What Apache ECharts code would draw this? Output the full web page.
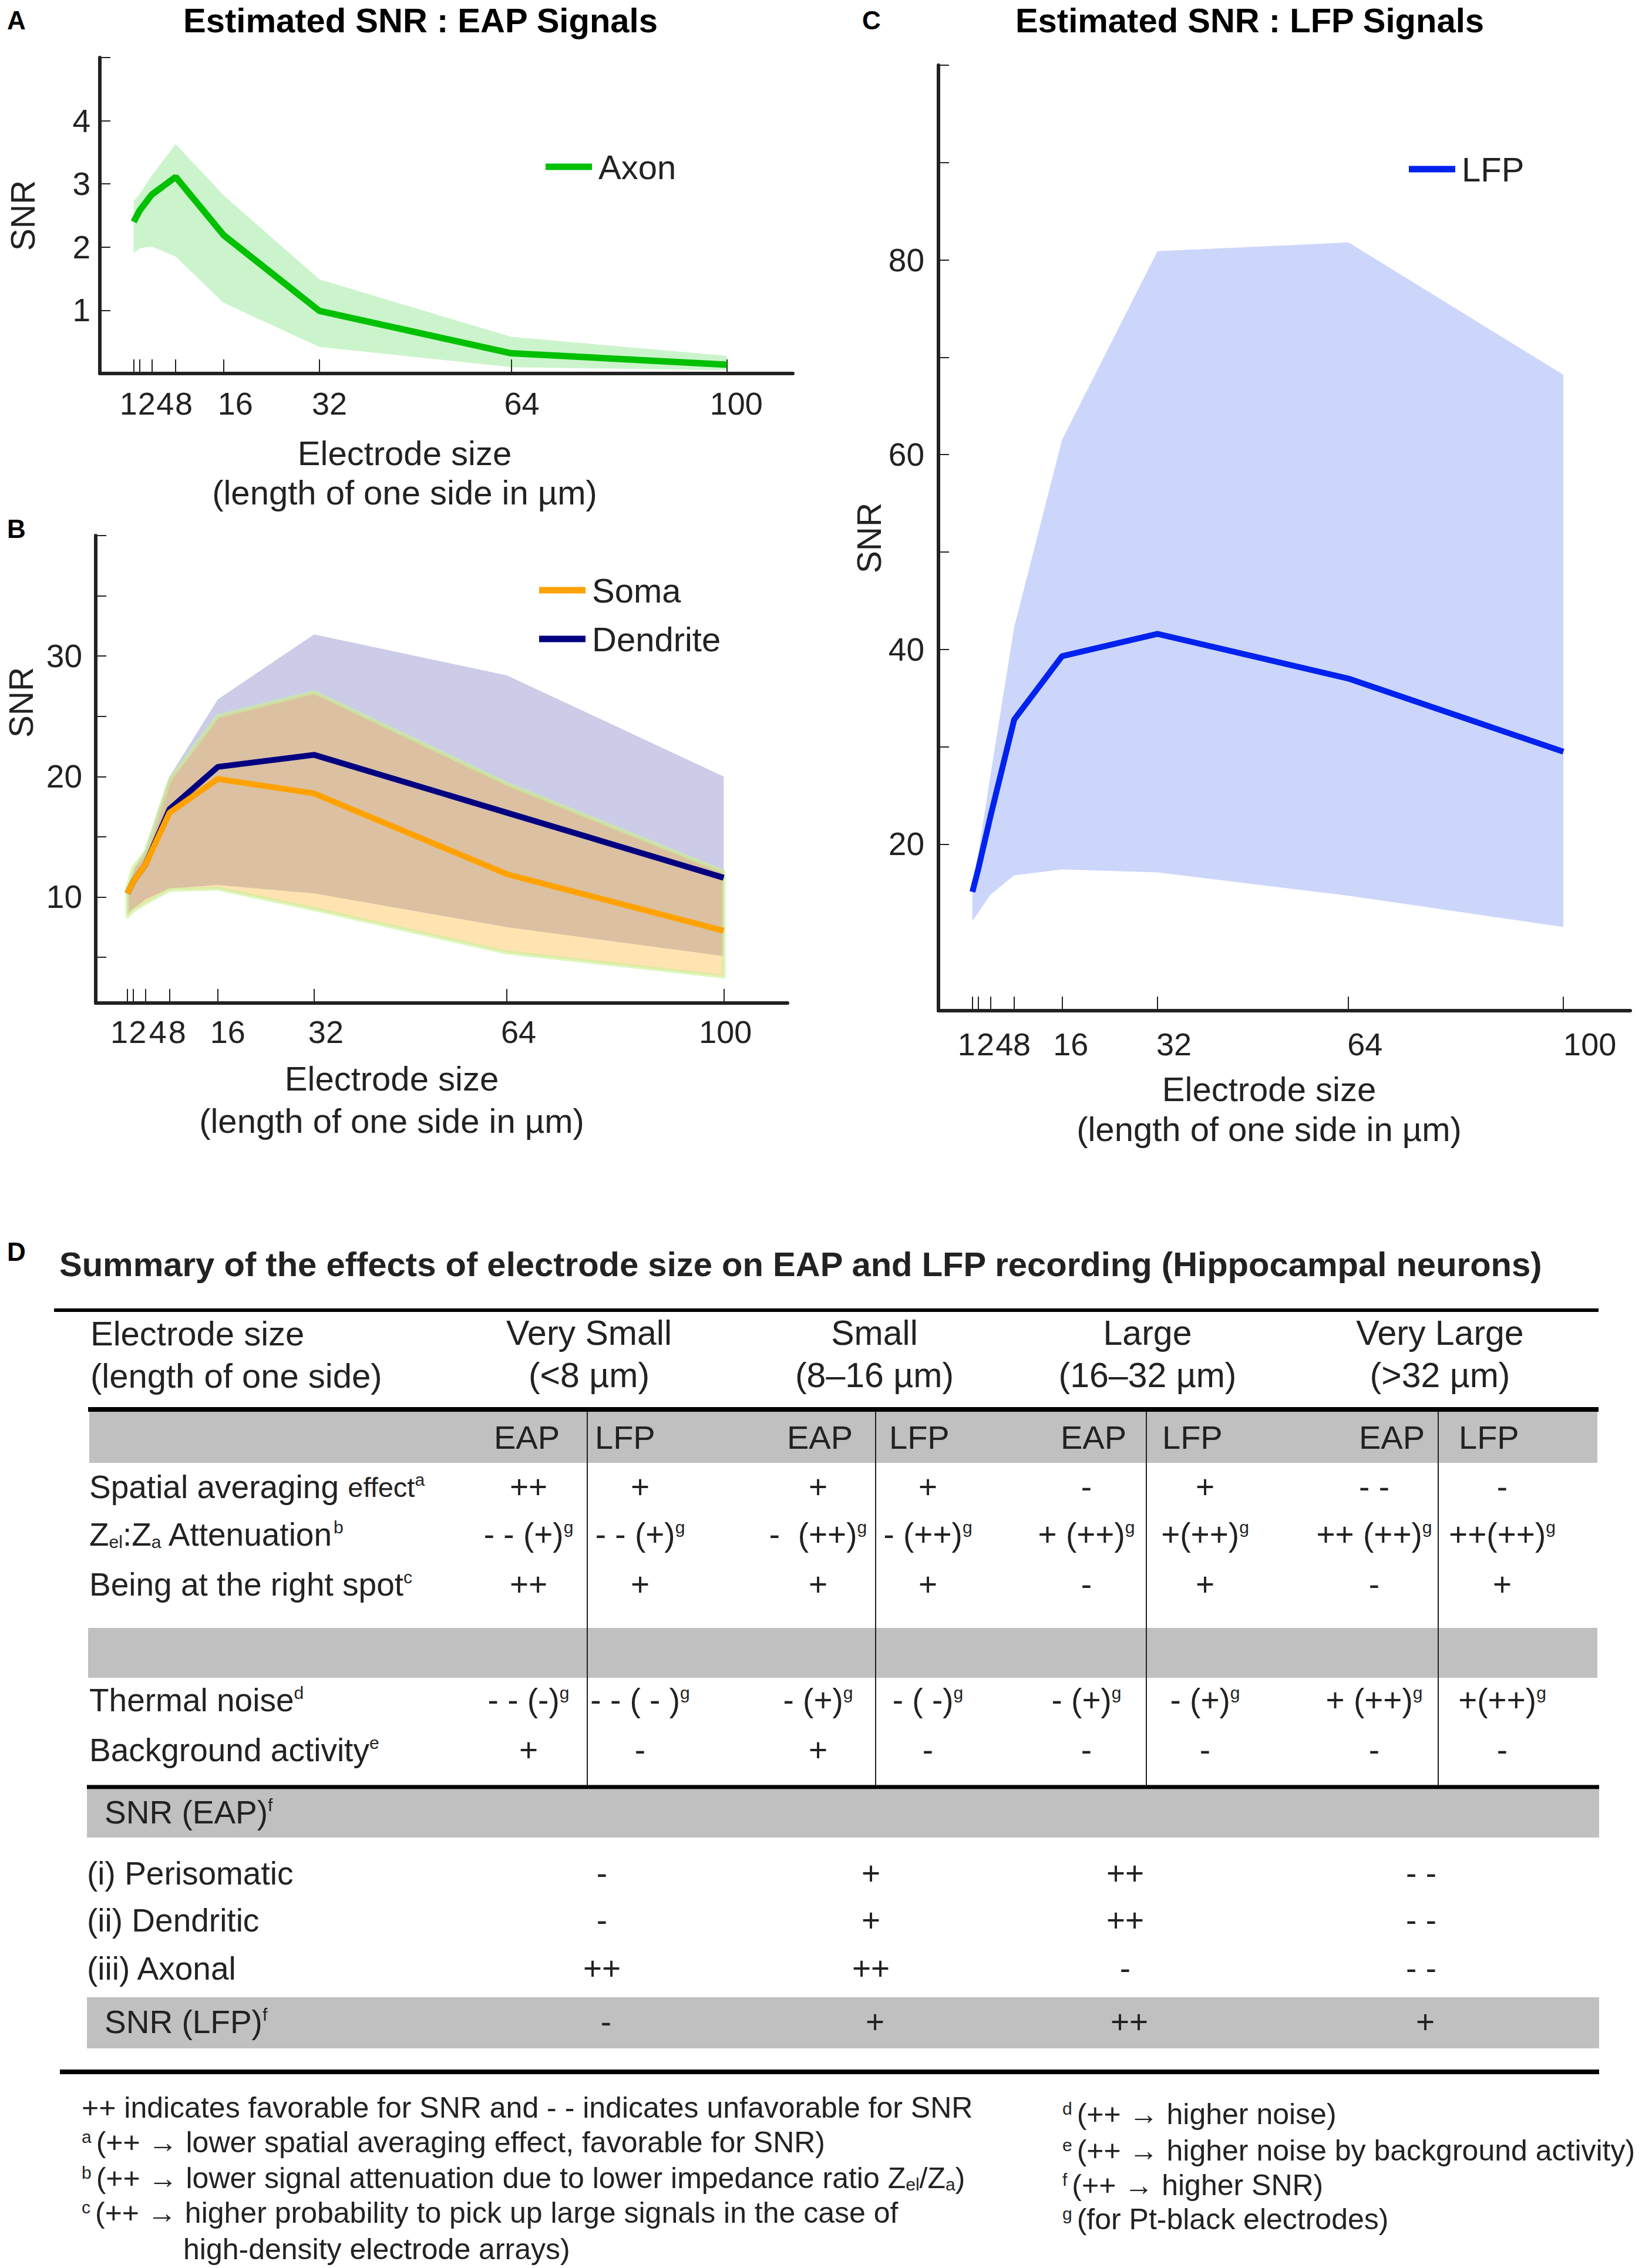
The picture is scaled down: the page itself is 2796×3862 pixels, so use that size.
<!DOCTYPE html>
<html>
<head>
<meta charset="utf-8">
<title>Electrode size and SNR</title>
<script src="https://cdn.jsdelivr.net/npm/echarts@6.0.0/dist/echarts.min.js"></script>
<style>
  html, body { margin: 0; padding: 0; background: #fff; }
  #main { width: 2796px; height: 3862px; }
</style>
</head>
<body>
<div id="main"></div>
<script>
// electrode side length (um), same x values for the three panels
var sizes = [1, 2, 4, 8, 16, 32, 64, 100];

// A : axon EAP
var axonMean  = [2.40, 2.58, 2.83, 3.11, 2.19, 0.99, 0.32, 0.14];
var axonUpper = [2.73, 2.84, 3.13, 3.63, 2.82, 1.49, 0.58, 0.28];
var axonLower = [1.90, 1.98, 2.01, 1.85, 1.12, 0.42, 0.10, 0.05];

// B : soma / dendrite EAP (dendrite hidden under soma below 8 um)
var somaMean  = [10.3, 11.3, 12.7, 17.0, 19.8, 18.6, 11.9, 7.2];
var somaUpper = [10.8, 12.5, 13.7, 19.7, 25.0, 27.0, 19.4, 12.1];
var somaLower = [8.4, 8.9, 9.5, 10.6, 10.7, 9.0, 5.4, 3.4];
var dendMean  = [10.3, 11.3, 12.7, 17.3, 20.8, 21.8, 17.0, 11.6];
var dendUpper = [10.9, 12.2, 14.0, 20.0, 26.4, 31.8, 28.4, 20.0];
var dendLower = [8.6, 9.0, 9.8, 10.7, 11.0, 10.3, 7.5, 5.1];

// C : LFP
var lfpMean  = [15.1, 17.5, 22.8, 32.8, 39.3, 41.6, 37.0, 29.5];
var lfpUpper = [15.8, 19.1, 27.0, 42.3, 61.5, 80.9, 81.8, 68.2];
var lfpLower = [12.1, 13.0, 14.8, 16.8, 17.4, 17.1, 14.7, 11.5];

// y ticks / labels
var ticksA = [1, 2, 3, 4, 5],   labelsA = [1, 2, 3, 4];
var ticksB = [5, 10, 15, 20, 25, 30, 35, 40], labelsB = [10, 20, 30];
var ticksC = [20, 30, 40, 50, 60, 70, 80, 90, 100], labelsC = [20, 40, 60, 80];

// D : summary table
var sizeClasses = ['Very Small', 'Small', 'Large', 'Very Large'];
var sizeRanges  = ['(<8 µm)', '(8–16 µm)', '(16–32 µm)', '(>32 µm)'];
var factorLabels = [
  'Spatial averaging {sm|effect}{sup|a}',
  'Z{sub|el}:Z{sub|a} Attenuation{sup|b}',
  'Being at the right spot{sup|c}',
  'Thermal noise{sup|d}',
  'Background activity{sup|e}'
];
var factorScores = [
  ['++', '+', '+', '+', '-', '+', '- -', '-'],
  ['- - (+){sup|g}', '- - (+){sup|g}', '-  (++){sup|g}', '- (++){sup|g}', '+ (++){sup|g}', '+(++){sup|g}', '++ (++){sup|g}', '++(++){sup|g}'],
  ['++', '+', '+', '+', '-', '+', '-', '+'],
  ['- - (-){sup|g}', '- - ( - ){sup|g}', '- (+){sup|g}', '- ( -){sup|g}', '- (+){sup|g}', '- (+){sup|g}', '+ (++){sup|g}', '+(++){sup|g}'],
  ['+', '-', '+', '-', '-', '-', '-', '-']
];
var snrEapLabels = ['(i) Perisomatic', '(ii) Dendritic', '(iii) Axonal'];
var snrEapScores = [
  ['-', '+', '++', '- -'],
  ['-', '+', '++', '- -'],
  ['++', '++', '-', '- -']
];
var snrLfpScores = ['-', '+', '++', '+'];
var footLeft = [
  '++ indicates favorable for SNR and - - indicates unfavorable for SNR',
  '{s|a}(++ → lower spatial averaging effect, favorable for SNR)',
  '{s|b}(++ → lower signal attenuation due to lower impedance ratio Z{sub|el}/Z{sub|a})',
  '{s|c}(++ → higher probability to pick up large signals in the case of',
  'high-density electrode arrays)'
];
var footRight = [
  '{s|d}(++ → higher noise)',
  '{s|e}(++ → higher noise by background activity)',
  '{s|f}(++ → higher SNR)',
  '{s|g}(for Pt-black electrodes)'
];

var FONT = '"Liberation Sans", Arial, Helvetica, sans-serif';
var INK = '#222';

var RICH = {
  sup: { fontSize: 30, verticalAlign: 'top', fontFamily: FONT },
  sub: { fontSize: 30, verticalAlign: 'bottom', fontFamily: FONT },
  sm:  { fontSize: 47, fontFamily: FONT },
  s:   { fontSize: 30, verticalAlign: 'top', fontFamily: FONT, padding: [0, 8, 0, 0] }
};

function txt(x, y, text, o) {
  o = o || {};
  var al = o.align || 'left';
  return {
    type: 'text', x: x, y: y, silent: true,
    style: {
      text: text, fontSize: o.size || 55, fontWeight: o.weight || 'normal',
      fontFamily: FONT, fill: o.color || INK,
      align: al, textAlign: al, verticalAlign: 'middle', textVerticalAlign: 'middle',
      rich: RICH
    }
  };
}
function hline(x1, x2, y, w) {
  return { type: 'line', silent: true, shape: { x1: x1, y1: y, x2: x2, y2: y }, style: { stroke: '#000', lineWidth: w } };
}
function vline(x, y1, y2) {
  return { type: 'line', silent: true, shape: { x1: x, y1: y1, x2: x, y2: y2 }, style: { stroke: INK, lineWidth: 2 } };
}
function box(x, y, w, h) {
  return { type: 'rect', silent: true, shape: { x: x, y: y, width: w, height: h }, style: { fill: '#c0c0c0' } };
}

// x axis with per-label nudges (labels are crowded near the origin)
function xAxisFor(gi, min, max, shifts, margin, nameGap, lineH, nameShift) {
  var rich = {};
  shifts.forEach(function (s, i) {
    rich['p' + i] = { fontSize: 54, color: INK, fontFamily: FONT,
      padding: s >= 0 ? [0, 0, 0, 2 * s] : [0, -2 * s, 0, 0] };
  });
  return {
    gridIndex: gi, type: 'value', min: min, max: max,
    axisLine: { show: true, onZero: false, lineStyle: { color: INK, width: 6 } },
    axisTick: { show: true, inside: true, length: 24, customValues: sizes, lineStyle: { color: INK, width: 2 } },
    axisLabel: {
      customValues: sizes, margin: margin, fontSize: 54, color: INK, fontFamily: FONT,
      showMinLabel: true, showMaxLabel: true, hideOverlap: false,
      formatter: function (v) { return '{p' + sizes.indexOf(v) + '|' + v + '}'; },
      rich: rich
    },
    splitLine: { show: false },
    name: 'Electrode size\n(length of one side in µm)',
    nameLocation: 'middle', nameGap: nameGap,
    nameTextStyle: { fontSize: 58, lineHeight: lineH, color: INK, fontFamily: FONT,
      padding: [0, 2 * nameShift, 0, 0] }
  };
}
function yAxisFor(gi, min, max, ticks, labels, margin, nameGap, namePad) {
  return {
    gridIndex: gi, type: 'value', min: min, max: max,
    axisLine: { show: true, onZero: false, lineStyle: { color: INK, width: 6 } },
    axisTick: { show: true, inside: true, length: 18, customValues: ticks, lineStyle: { color: INK, width: 2 } },
    axisLabel: { customValues: labels, margin: margin, fontSize: 55, color: INK, fontFamily: FONT,
      showMinLabel: true, showMaxLabel: true },
    splitLine: { show: false },
    name: 'SNR', nameLocation: 'middle', nameGap: nameGap,
    nameTextStyle: { fontSize: 57, color: INK, fontFamily: FONT, padding: namePad || 0 }
  };
}

function band(gi, upper, lower, fill, stroke, sw) {
  return {
    type: 'custom', xAxisIndex: gi, yAxisIndex: gi, silent: true, z: 1,
    data: [[sizes[0], lower[0]]],
    renderItem: function (params, api) {
      var pts = [];
      for (var i = 0; i < sizes.length; i++) pts.push(api.coord([sizes[i], upper[i]]));
      for (var j = sizes.length - 1; j >= 0; j--) pts.push(api.coord([sizes[j], lower[j]]));
      return { type: 'polygon', shape: { points: pts },
        style: { fill: fill, stroke: stroke || null, lineWidth: sw || 0, lineJoin: 'round' } };
    }
  };
}
function meanLine(gi, name, vals, color, w) {
  return {
    type: 'line', name: name, xAxisIndex: gi, yAxisIndex: gi, z: 3,
    data: sizes.map(function (x, i) { return [x, vals[i]]; }),
    symbol: 'none', lineStyle: { color: color, width: w }, itemStyle: { color: color }
  };
}
function legendAt(names, left, top, gap) {
  return {
    data: names, left: left, top: top, orient: 'vertical', icon: 'rect',
    itemWidth: 79, itemHeight: 11, itemGap: gap || 7, selectedMode: false, padding: 0,
    textStyle: { fontSize: 58, lineHeight: 56, color: INK, fontFamily: FONT, padding: [0, 0, 0, 6] }
  };
}

// ---- table graphics ----
var groupX = [1003, 1489, 1954, 2452];
var sepX = [1000, 1491, 1952, 2449];
var eapHeadX = [897, 1396, 1862, 2370];
var lfpHeadLeft = [1013, 1514, 1979, 2484];
var subColX = [900, 1090, 1393, 1580, 1850, 2052, 2340, 2558];
var factorY = [2532, 2613, 2698, 2895, 2980];
var snrColX = [1025, 1483, 1916, 2420];
var snrRowY = [3190, 3270, 3352];
var footLeftY = [3589, 3648, 3709, 3768, 3830];
var footRightY = [3600, 3662, 3721, 3779];

var els = [];
els.push(box(152, 2404, 2568, 87), box(150, 2772, 2570, 85), box(148, 3047, 2575, 82), box(148, 3401, 2575, 87));
els.push(hline(92, 2722, 2231, 6), hline(150, 2722, 2400, 8), hline(148, 2723, 3043, 7), hline(102, 2723, 3528, 8));
sepX.forEach(function (x) { els.push(vline(x, 2404, 3040)); });

els.push(txt(12, 34, 'A', { size: 44, weight: 'bold', color: '#000' }));
els.push(txt(716, 34, 'Estimated SNR : EAP Signals', { size: 58, weight: 'bold', align: 'center', color: '#000' }));
els.push(txt(12, 900, 'B', { size: 44, weight: 'bold', color: '#000' }));
els.push(txt(1468, 34, 'C', { size: 44, weight: 'bold', color: '#000' }));
els.push(txt(2128, 34, 'Estimated SNR : LFP Signals', { size: 58, weight: 'bold', align: 'center', color: '#000' }));
els.push(txt(12, 2131, 'D', { size: 44, weight: 'bold', color: '#000' }));
els.push(txt(101, 2152, 'Summary of the effects of electrode size on EAP and LFP recording (Hippocampal neurons)', { size: 58, weight: 'bold' }));

els.push(txt(154, 2270, 'Electrode size', { size: 58 }));
els.push(txt(154, 2342, '(length of one side)', { size: 58 }));
sizeClasses.forEach(function (s, i) {
  els.push(txt(groupX[i], 2270, s, { size: 59, align: 'center' }));
  els.push(txt(groupX[i], 2342, sizeRanges[i], { size: 59, align: 'center' }));
  els.push(txt(eapHeadX[i], 2447, 'EAP', { size: 56, align: 'center' }));
  els.push(txt(lfpHeadLeft[i], 2447, 'LFP', { size: 56 }));
});
factorLabels.forEach(function (lab, r) {
  els.push(txt(152, factorY[r], lab));
  factorScores[r].forEach(function (v, c) {
    els.push(txt(subColX[c], factorY[r], v, { align: 'center' }));
  });
});
els.push(txt(178, 3086, 'SNR (EAP){sup|f}'));
snrEapLabels.forEach(function (lab, r) {
  els.push(txt(148, snrRowY[r], lab));
  snrEapScores[r].forEach(function (v, c) {
    els.push(txt(snrColX[c], snrRowY[r], v, { align: 'center' }));
  });
});
els.push(txt(178, 3443, 'SNR (LFP){sup|f}'));
snrLfpScores.forEach(function (v, c) {
  els.push(txt(snrColX[c] + 7, 3443, v, { align: 'center' }));
});
footLeft.forEach(function (t, i) {
  els.push(txt(i === 4 ? 312 : 139, footLeftY[i], t, { size: 50 }));
});
footRight.forEach(function (t, i) {
  els.push(txt(1809, footRightY[i], t, { size: 50 }));
});

var chart = echarts.init(document.getElementById('main'), null, { renderer: 'svg' });
chart.setOption({
  animation: false,
  backgroundColor: '#fff',
  textStyle: { fontFamily: FONT },
  grid: [
    { left: 170, top: 98, width: 1180, height: 538, outerBoundsMode: 'none' },
    { left: 163, top: 912, width: 1178, height: 796, outerBoundsMode: 'none' },
    { left: 1598, top: 111, width: 1178, height: 1610, outerBoundsMode: 'none' }
  ],
  xAxis: [
    xAxisFor(0, -4.65, 111, [-9, 12, 23, 14, 20, 17, 18, 16], 24, 102, 67, 71),
    xAxisFor(1, -4.26, 110.6, [-14, 7, 21, 13, 17, 20, 20, 3], 22, 92, 72, 85),
    xAxisFor(2, -4.69, 111.2, [-10, 12, 24, 13, 15, 28, 28, 45], 30, 99, 68, 26)
  ],
  yAxis: [
    yAxisFor(0, 0, 5, ticksA, labelsA, 16, 103),
    yAxisFor(1, 1.2, 40, ticksB, labelsB, 23, 99, [0, 0, 0, 228]),
    yAxisFor(2, 2.9, 100, ticksC, labelsC, 24, 80)
  ],
  legend: [
    legendAt(['Axon'], 929, 255),
    legendAt(['Soma', 'Dendrite'], 918, 976, 25),
    legendAt(['LFP'], 2399, 259)
  ],
  series: [
    band(0, axonUpper, axonLower, 'rgba(0,200,0,0.2)'),
    meanLine(0, 'Axon', axonMean, '#00c000', 11),
    band(1, dendUpper, dendLower, 'rgba(0,0,140,0.2)'),
    band(1, somaUpper, somaLower, 'rgba(255,165,0,0.3)', 'rgba(200,240,150,0.6)', 7),
    meanLine(1, 'Dendrite', dendMean, '#000080', 10),
    meanLine(1, 'Soma', somaMean, '#ffa200', 10),
    band(2, lfpUpper, lfpLower, 'rgba(0,50,230,0.2)'),
    meanLine(2, 'LFP', lfpMean, '#0022ee', 10)
  ],
  graphic: { elements: els }
});
</script>
</body>
</html>
